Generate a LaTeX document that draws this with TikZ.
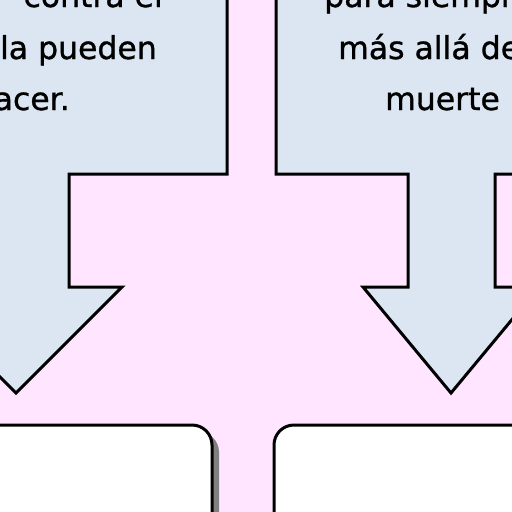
\documentclass[tikz,border=0pt]{standalone}
\usepackage{fontspec}
\setmainfont{DejaVu Sans}
\newfontfamily\lblfont[FakeBold=1]{DejaVu Sans}
\definecolor{bgpink}{RGB}{255,229,255}
\definecolor{callblue}{RGB}{220,230,242}
\definecolor{shadowgray}{RGB}{128,128,128}
\begin{document}
\begin{tikzpicture}[x=1pt,y=-1pt,
  callout/.style={draw=black,line width=3pt,line join=miter,fill=callblue},
  whitebox/.style={draw=black,line width=3pt,fill=white,rounded corners=20pt},
  boxshadow/.style={fill=shadowgray,rounded corners=20pt},
  lbl/.style={font=\lblfont\fontsize{31.5}{38}\selectfont,inner sep=0pt,text=black}]
\useasboundingbox (0,0) rectangle (512,512);
\clip (0,0) rectangle (512,512);
\fill[bgpink] (0,0) rectangle (512,512);
% left callout arrow
\draw[callout] (-120,-20) -- (227,-20) -- (227,174) -- (69,174) -- (69,287)
  -- (122,287) -- (16,393) -- (-90,287) -- (-37,287) -- (-37,174) -- (-120,174) -- cycle;
% right callout arrow
\draw[callout] (276,-20) -- (276,174) -- (408,174) -- (408,287) -- (363,287)
  -- (451,393) -- (539,287) -- (495,287) -- (495,174) -- (620,174) -- (620,-20) -- cycle;
% texts
\node[lbl,anchor=base east] (l1) at (163,7) {contra el};
\node[lbl,anchor=base east] (l2) at (157,59) {la pueden};
\node[lbl,anchor=base east] (l3) at (70,110) {hacer.};
\node[lbl,anchor=base west] (r1) at (324,7) {para siempre};
\node[lbl,anchor=base west] (r2) at (338,59) {más allá de la};
\node[lbl,anchor=base west] (r3) at (385,110) {muerte};
% bottom boxes
\fill[boxshadow] (-93,432) rectangle (219,620);
\draw[whitebox] (-100,425) rectangle (212,620);
\fill[boxshadow] (281,432) rectangle (620,620);
\draw[whitebox] (274,425) rectangle (620,620);
\end{tikzpicture}
\end{document}
